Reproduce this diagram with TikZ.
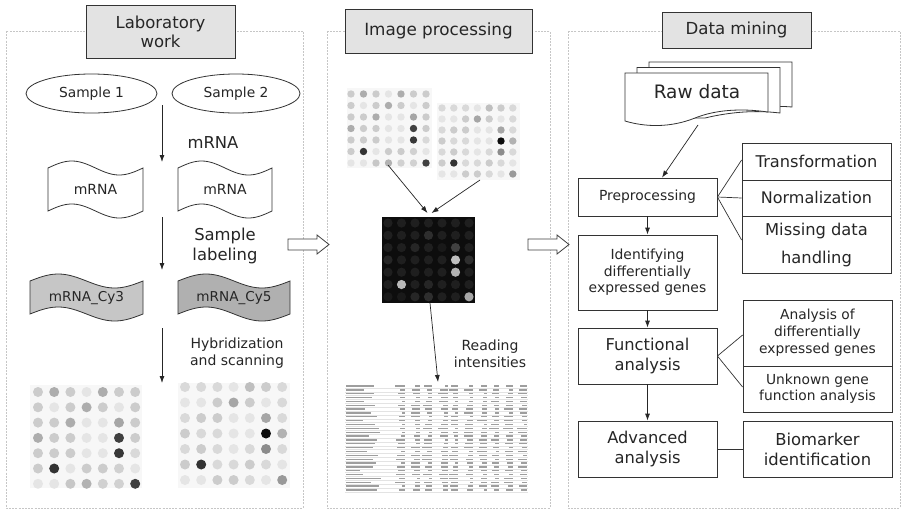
\documentclass[tikz,border=0pt]{standalone}
\usepackage{fontspec}
\setmainfont{DejaVu Sans}
\usetikzlibrary{arrows.meta,calc,shapes.geometric}

% font size helper
\newcommand\fsz[2]{\fontsize{#1}{#2}\selectfont}

% wavy "tape" shape: x-left, top mid-line, x-right, bottom mid-line, style
\newcommand\tapeshape[5]{%
  \draw[#5] plot[domain=#1:#3,samples=40,smooth] (\x,{#2-7*sin(360/(#3-#1)*(\x-#1))})
    -- plot[domain=#3:#1,samples=40,smooth] (\x,{#4-7*sin(360/(#3-#1)*(\x-#1))}) -- cycle;}

% 7x7 spot grid: x0, y0, dx, dy, radius, colour (using \v), list macro of 49 values
\newcommand\spotgrid[7]{%
  \foreach \v [count=\k from 0] in #7 {%
    \pgfmathtruncatemacro\cc{mod(\k,7)}%
    \pgfmathtruncatemacro\rr{div(\k,7)}%
    \fill[#6] ({#1+\cc*#3},{#2+\rr*#4}) circle[radius=#5pt];
  }}

\def\spotsA{20,32,20,10,32,20,20,
 20,10,20,32,20,10,20,
 20,20,32,10,10,35,20,
 32,20,20,10,10,75,20,
 20,20,20,10,10,78,15,
 20,80,10,20,20,18,10,
 10,10,22,30,18,18,75}
\def\spotsB{15,15,15,10,25,20,15,
 10,10,20,35,20,10,15,
 15,20,20,10,10,35,15,
 20,15,15,10,10,95,30,
 15,20,15,10,15,45,15,
 20,80,15,15,20,15,10,
 10,10,20,20,15,10,40}
\def\spotsD{12,12,12,12,12,12,12,
 12,12,12,18,12,12,12,
 12,12,15,12,10,25,12,
 15,12,12,12,12,75,18,
 12,12,12,12,12,70,12,
 12,72,12,15,12,12,12,
 10,10,15,18,12,12,65}

\begin{document}
\begin{tikzpicture}[x=1pt,y=-1pt,
  panel/.style={draw=gray!45,line width=0.6pt,dash pattern=on 2pt off 1.2pt},
  header/.style={draw=black!80,fill=gray!22,line width=0.8pt,text=black!85,align=center,inner sep=0pt},
  box/.style={draw=black!80,fill=white,line width=0.8pt,text=black!85,align=center,inner sep=0pt},
  lbl/.style={text=black!85,align=center,inner sep=0pt},
  arr/.style={draw=black!85,line width=0.8pt,-{Latex[length=7pt,width=5pt]}},
  link/.style={draw=black!80,line width=0.7pt},
  tape/.style={draw=black!80,line width=0.8pt},
  sheet/.style={draw=black!80,fill=white,line width=0.8pt},
  blockarrow/.style={draw=black!75,fill=white,line width=0.8pt},
  hidden/.style={inner sep=0pt,outer sep=0pt}]

\useasboundingbox (0,0) rectangle (902,512);
\fill[white] (0,0) rectangle (902,512);

% ---- panel frames ----
\draw[panel] (6,31) rectangle (303,508);
\draw[panel] (327,31) rectangle (550,508);
\draw[panel] (568,31) rectangle (900,508);

% ---- headers ----
\node[header,minimum width=149pt,minimum height=53pt,font=\fsz{16.5}{19}] (hlab) at (160.5,31.5)
  {Laboratory\\work};
\node[header,minimum width=187pt,minimum height=44pt,font=\fsz{16.8}{20}] (himg) at (438.5,31)
  {Image processing};
\node[header,minimum width=149pt,minimum height=36pt,font=\fsz{16.6}{20}] (hdat) at (736.5,30)
  {Data mining};

% ---- block arrows between panels ----
\draw[blockarrow] (288,239) -- (317,239) -- (317,235) -- (329,244.5) -- (317,254) -- (317,250) -- (288,250) -- cycle;
\draw[blockarrow] (528,239) -- (557,239) -- (557,235) -- (569,244.5) -- (557,254) -- (557,250) -- (528,250) -- cycle;

% ================= Laboratory work =================
\node[draw=black!80,line width=0.8pt,ellipse,minimum width=131pt,minimum height=39pt,inner sep=0pt,text=black!85,font=\fsz{13.8}{16}]
  (s1) at (91.5,93.5) {Sample 1};
\node[draw=black!80,line width=0.8pt,ellipse,minimum width=128pt,minimum height=39pt,inner sep=0pt,text=black!85,font=\fsz{13.8}{16}]
  (s2) at (236,93.5) {Sample 2};

\node[lbl,font=\fsz{16.4}{19}] (lmrna) at (213,143) {mRNA};

\tapeshape{48}{168}{143}{211}{tape,fill=white}
\tapeshape{178}{168}{272}{211}{tape,fill=white}
\node[lbl,font=\fsz{14}{16}] (m1) at (95.5,189.5) {mRNA};
\node[lbl,font=\fsz{14}{16}] (m2) at (225,189.5) {mRNA};

\node[lbl,font=\fsz{16.4}{20}] (llab) at (225,245.5) {Sample\\labeling};

\tapeshape{30}{281}{143}{314}{tape,fill=gray!45}
\tapeshape{178}{281}{290}{314}{tape,fill=gray!62}
\node[lbl,font=\fsz{13.6}{16}] (c3) at (86.5,298) {mRNA\_Cy3};
\node[lbl,font=\fsz{13.6}{16}] (c5) at (234,298) {mRNA\_Cy5};

\node[lbl,font=\fsz{14}{17}] (lhyb) at (237,353.5) {Hybridization\\and scanning};

% scanned slides
\node[hidden,fill=gray!6,minimum width=112pt,minimum height=103pt] (slide1) at (86,436.5) {};
\node[hidden,fill=gray!6,minimum width=112pt,minimum height=105pt] (slide2) at (234,435.5) {};
\spotgrid{38}{392}{16.2}{15.3}{5}{black!\v}{\spotsA}
\spotgrid{185}{387}{16.2}{15.5}{5}{black!\v}{\spotsB}

% arrows down the middle of the panel
\coordinate (a1s) at (162,105);  \coordinate (a1e) at (162,162);
\coordinate (a2s) at (162,217);  \coordinate (a2e) at (162,270);
\coordinate (a3s) at (162,328);  \coordinate (a3e) at (162,383);
\draw[arr] (a1s) -- (a1e);
\draw[arr] (a2s) -- (a2e);
\draw[arr] (a3s) -- (a3e);

% ================= Image processing =================
\node[hidden,fill=gray!6,minimum width=85pt,minimum height=80pt] (imA) at (389.5,128) {};
\node[hidden,fill=gray!6,minimum width=83pt,minimum height=77pt] (imB) at (478.5,141.5) {};
\spotgrid{351}{94}{12.5}{11.5}{3.7}{black!\v}{\spotsA}
\spotgrid{442}{108}{11.8}{11}{3.7}{black!\v}{\spotsB}

\node[hidden,fill=black!95,minimum width=93pt,minimum height=86pt] (dark) at (428.5,260) {};
\spotgrid{388}{223}{13.5}{12.3}{4.6}{white!\v!black}{\spotsD}

\coordinate (pA) at (388,165);
\coordinate (pB) at (480,180);
\draw[arr,line width=0.7pt] (pA) -- ($(dark.north)+(-1,-4)$);
\draw[arr,line width=0.7pt] (pB) -- ($(dark.north)+(3,-4)$);

\node[lbl,font=\fsz{14}{17}] (lread) at (490,354) {Reading\\intensities};

% table of intensities
\node[hidden,minimum width=183pt,minimum height=109pt] (table) at (436.5,437.5) {};
\pgfmathsetseed{11}
\foreach \r in {0,...,27} {
  \pgfmathsetmacro\yy{386+\r*3.85}
  \pgfmathsetmacro\w{14+rnd*22}
  \fill[black!38] (346,\yy-0.65) rectangle (346+\w,\yy+0.65);
  \foreach \xe in {405,420,432,448,458,473,487,499,513,527} {
    \pgfmathsetmacro\w{3+rnd*7}
    \fill[black!38] (\xe-\w,\yy-0.65) rectangle (\xe,\yy+0.65);
  }
  \draw[gray!22,line width=0.3pt] (345,\yy+1.9) -- (528,\yy+1.9);
}
\draw[arr,line width=0.7pt] ($(dark.south)+(1.5,0)$) -- ($(table.north)+(1.5,-1)$);

% ================= Data mining =================
\draw[sheet] (649,62) -- (792,62) -- (792,107) .. controls (770,105) and (740,108) .. (700,113) -- (649,113) -- cycle;
\draw[sheet] (637,67.5) -- (780,67.5) -- (780,113) .. controls (755,110) and (730,112) .. (705,118) -- (637,118) -- cycle;
\draw[sheet] (625,73) -- (768,73) -- (768,112) .. controls (740,108) and (715,110) .. (695,118)
  .. controls (670,128) and (645,127) .. (625,121) -- cycle;
\node[lbl,font=\fsz{18.5}{22}] (raw) at (697,92) {Raw data};
\coordinate (rawout) at (698,125);

\node[box,minimum width=139pt,minimum height=38pt,font=\fsz{13.9}{16}] (pre) at (647.5,197) {Preprocessing};
\node[box,minimum width=139pt,minimum height=75pt,font=\fsz{13.9}{16.5}] (ident) at (647.5,272.5)
  {Identifying\\differentially\\expressed genes};
\node[box,minimum width=139pt,minimum height=56pt,font=\fsz{16.3}{20}] (func) at (647.5,356)
  {Functional\\analysis};
\node[box,minimum width=139pt,minimum height=56pt,font=\fsz{16.3}{20}] (adv) at (647.5,449)
  {Advanced\\analysis};

\node[box,minimum width=149pt,minimum height=37pt,font=\fsz{16.2}{19}] (trans) at (816.5,161.5) {Transformation};
\node[box,minimum width=149pt,minimum height=36pt,font=\fsz{16}{19}] (norm) at (816.5,198) {Normalization};
\node[box,minimum width=149pt,minimum height=57pt,font=\fsz{16.3}{28}] (miss) at (816.5,244.5)
  {Missing data\\handling};

\node[box,minimum width=149pt,minimum height=66pt,font=\fsz{13.8}{17}] (anal) at (817.5,333)
  {Analysis of\\differentially\\expressed genes};
\node[box,minimum width=149pt,minimum height=46pt,font=\fsz{13.8}{16}] (unk) at (817.5,389)
  {Unknown gene\\function analysis};
\node[box,minimum width=149pt,minimum height=56pt,font=\fsz{16.4}{20}] (bio) at (817.5,449)
  {Biomarker\\identification};

\draw[arr,line width=0.7pt] (rawout) -- ($(pre.north)+(14.5,0)$);
\draw[arr] (pre) -- (ident);
\draw[arr] (ident) -- (func);
\draw[arr] (func) -- (adv);

\draw[link] (pre.east) -- ($(trans.west)+(0,-1.5)$);
\draw[link] (pre.east) -- (norm.west);
\draw[link] (pre.east) -- ($(miss.west)+(0,-4.5)$);
\draw[link] (func.east) -- ($(anal.west)+(0,2)$);
\draw[link] (func.east) -- ($(unk.west)+(0,-2)$);
\draw[link] (adv.east) -- (bio.west);

\end{tikzpicture}
\end{document}
